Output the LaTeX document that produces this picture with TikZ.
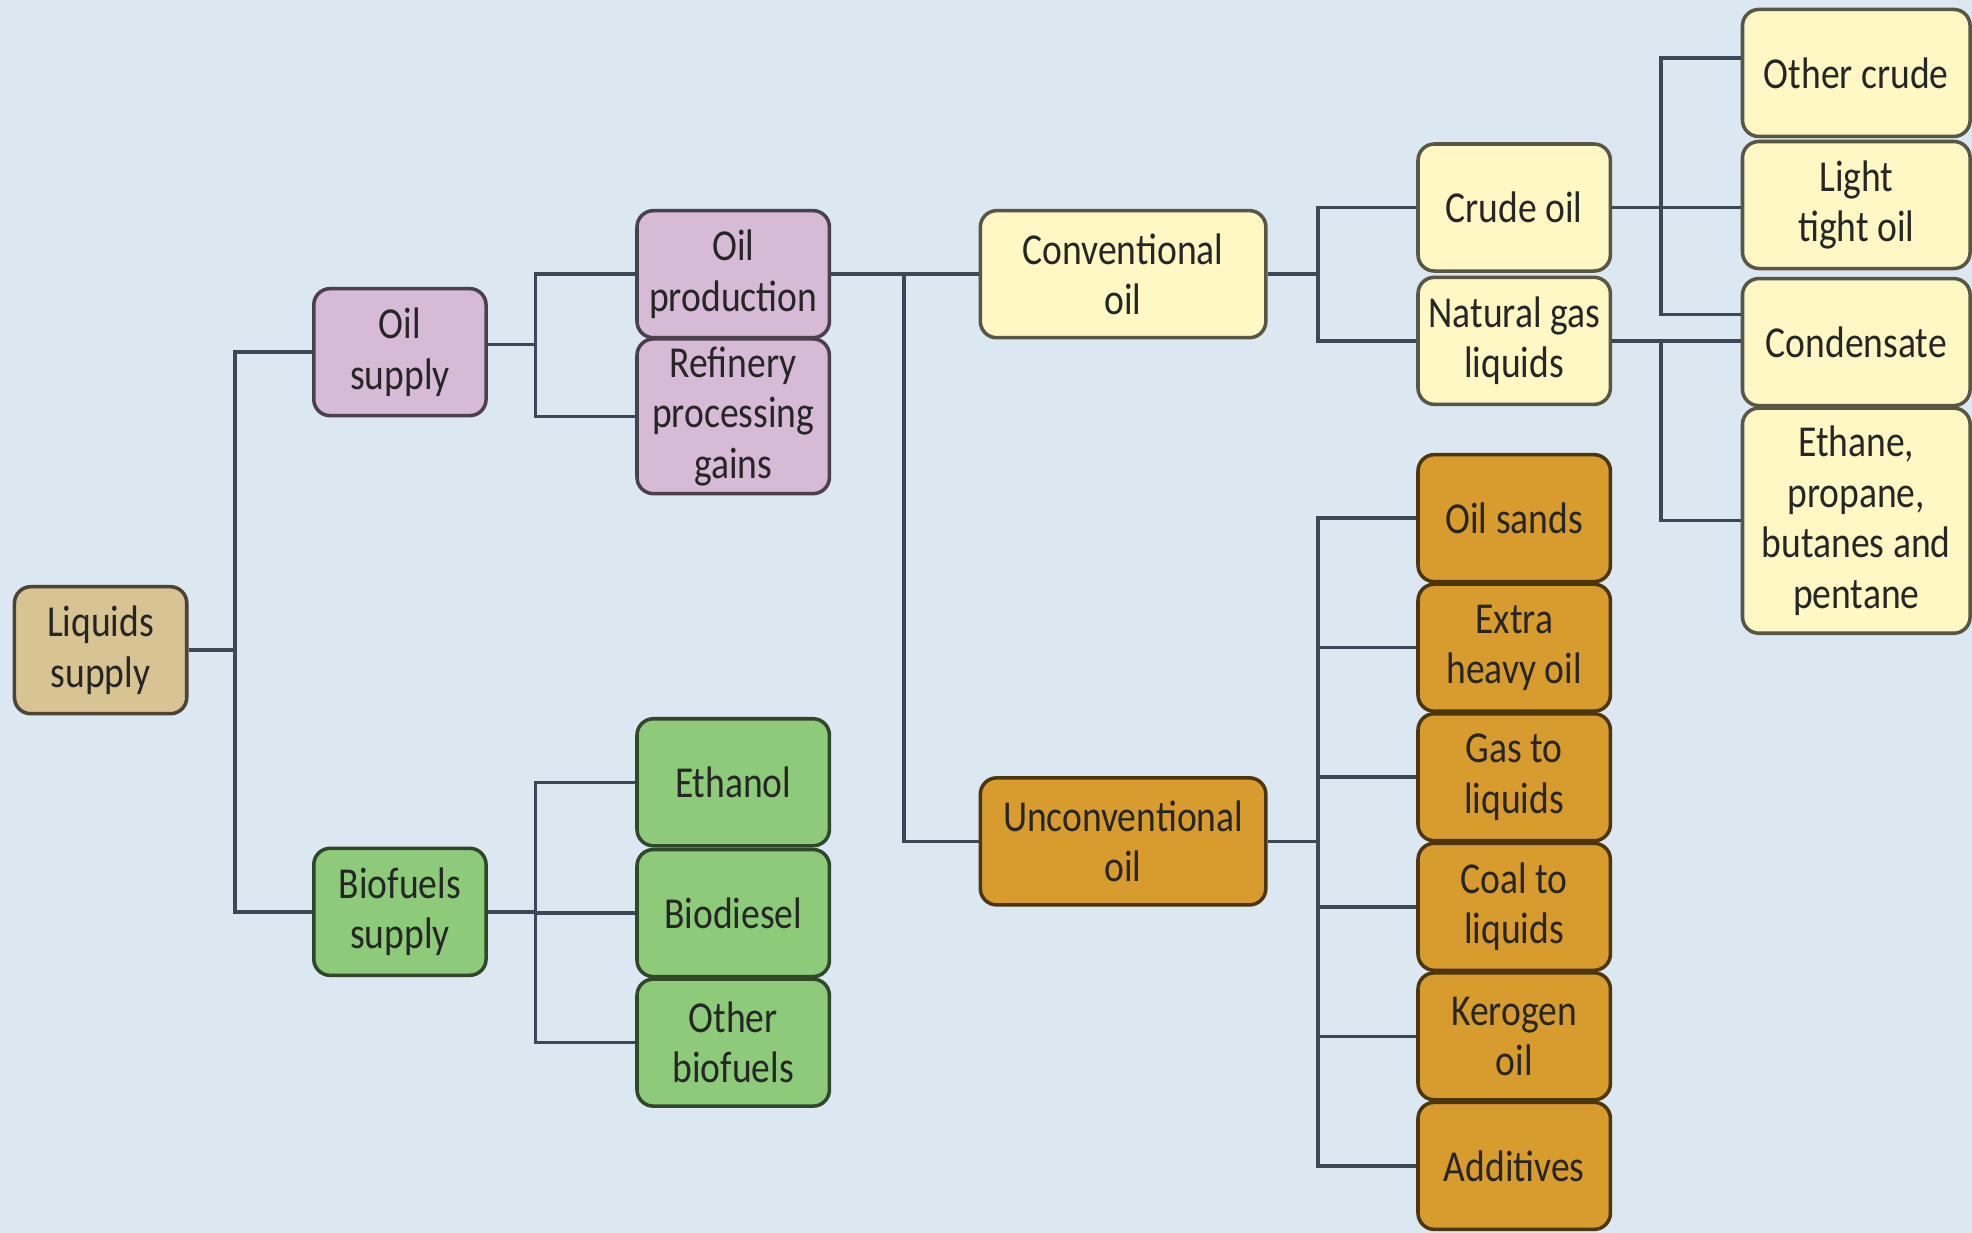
\documentclass[tikz,border=0pt]{standalone}
\usepackage{fontspec}
\setmainfont[FakeStretch=0.85]{Carlito}
\usetikzlibrary{calc}
\definecolor{bgblue}{RGB}{219,231,241}
\definecolor{tanc}{RGB}{216,196,146}
\definecolor{pinkc}{RGB}{215,186,214}
\definecolor{greenc}{RGB}{141,203,122}
\definecolor{yelc}{RGB}{255,247,196}
\definecolor{orangec}{RGB}{216,155,46}
\definecolor{linkgray}{RGB}{60,72,88}
\tikzset{leaf/.style={draw=#1!35!black,fill=#1,rounded corners=1.3mm,line width=0.8pt,
    align=center,minimum width=1.53cm,minimum height=1.01cm,inner sep=1pt,
    text=black!85,font=\fontsize{10}{11.4}\selectfont},
  link/.style={draw=linkgray,line width=0.8pt}}

\begin{document}
\begin{tikzpicture}[x=0.1mm,y=-0.1mm]
    \useasboundingbox (0,0) rectangle (1568,980);
    \fill[bgblue] (0,0) rectangle (1568,980);
%% left part
    \node[leaf=tanc,minimum width=1.37cm] (liq) at (80,517) {Liquids\\supply};
    \node[leaf=pinkc,minimum width=1.37cm] (oilsup) at (318,280) {Oil\\supply};
    \node[leaf=greenc,minimum width=1.37cm] (biosup) at (318,725) {Biofuels\\supply};
    \node[leaf=pinkc] (prod) at (583,218) {Oil\\production};
    \node[leaf=pinkc,minimum height=1.23cm] (refin) at (583,331) {Refinery\\processing\\gains};
    \node[leaf=greenc] (ethanol) at (583,622) {Ethanol};
    \node[leaf=greenc] (biodsl) at (583,726) {Biodiesel};
    \node[leaf=greenc] (othbio) at (583,829) {Other\\biofuels};
%% oil types
    \node[leaf=yelc,minimum width=2.27cm] (conv) at (893,218) {Conventional\\oil};
    \node[leaf=orangec,minimum width=2.27cm] (unconv) at (893,669) {Unconventional\\oil};
    \node[leaf=yelc] (crude) at (1204,165) {Crude oil};
    \node[leaf=yelc] (ngl) at (1204,271) {Natural gas\\liquids};
    \foreach \n/\y/\t in {sands/412/{Oil sands},heavy/515/{Extra\\heavy oil},gtl/618/{Gas to\\liquids},
        ctl/721/{Coal to\\liquids},kero/824/{Kerogen\\oil},addit/927/{Additives}}
    {\node[leaf=orangec] (\n) at (1204,\y) {\t};}
%% right column
    \node[leaf=yelc,minimum width=1.81cm] (othcr) at (1476,58) {Other crude};
    \node[leaf=yelc,minimum width=1.81cm] (lto) at (1476,163) {Light\\tight oil};
    \node[leaf=yelc,minimum width=1.81cm] (cond) at (1476,272) {Condensate};
    \node[leaf=yelc,minimum width=1.81cm,minimum height=1.79cm] (ethane) at (1476,414) {Ethane,\\propane,\\butanes and\\pentane};
%% connectors
    \foreach \n in {oilsup,biosup}
    \draw[link] (liq.east) -- ++(37,0) |- (\n.west);
    \foreach \n in {prod,refin}
    \draw[link] ($(oilsup.east)+(0,-6)$) -- ++(38,0) |- (\n.west);
    \foreach \n in {ethanol,biodsl,othbio}
    \draw[link] (biosup.east) -- ++(38,0) |- (\n.west);
    \draw[link] (prod.east) -- (conv.west);
    \draw[link] (prod.east) -- ++(58,0) |- (unconv.west);
    \foreach \n in {crude,ngl}
    \draw[link] (conv.east) -- ++(40,0) |- (\n.west);
    \foreach \n in {sands,heavy,gtl,ctl,kero,addit}
    \draw[link] (unconv.east) -- ++(40,0) |- (\n.west);
    \draw[link] (crude.east) -- (crude.east -| lto.west);
    \draw[link] (crude.east) -- ++(39,0) |- ($(othcr.west)+(0,-12)$);
    \draw[link] (crude.east) -- ++(39,0) |- ($(cond.west)+(0,-22)$);
    \draw[link] (ngl.east) -- (ngl.east -| cond.west);
    \draw[link] (ngl.east) -- ++(39,0) |- (ethane.west);
\end{tikzpicture}
\end{document}
